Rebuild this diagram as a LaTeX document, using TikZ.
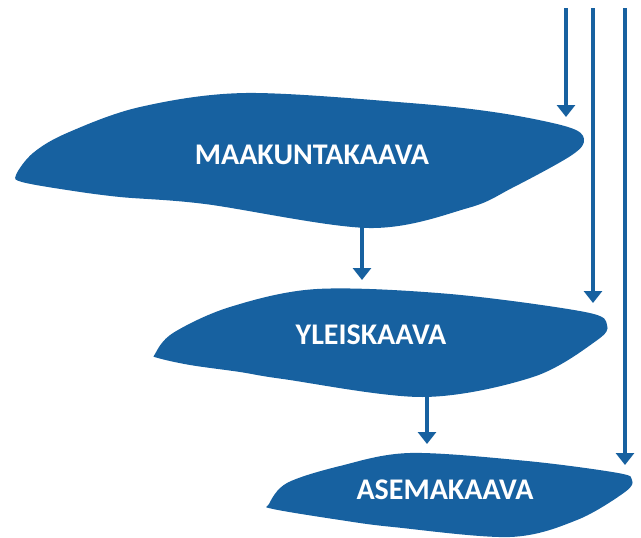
\documentclass[tikz,border=0pt]{standalone}
\usepackage{fontspec}
\setmainfont{Carlito}
\usetikzlibrary{arrows.meta}
\definecolor{kaavablue}{HTML}{1761A0}
\tikzset{
  blob/.style={fill=kaavablue, draw=none},
  label/.style={text=white, font=\fontsize{30}{36}\selectfont\bfseries, inner sep=0pt},
  flow/.style={draw=kaavablue, line width=4.2pt, -{Triangle[width=18pt,length=12pt]}}
}
\begin{document}
\begin{tikzpicture}[x=1pt,y=-1pt]
  \useasboundingbox (0,0) rectangle (641,538);
  % blobs
  \fill[blob] plot[smooth cycle, tension=0.55] coordinates {(16,175) (33,153) (67,133) (140,107) (246,93) (410,103) (500,113) (568,127) (584,139) (572,155) (512,188) (468,208) (369,228) (205,204) (120,197) (67,190) (22,182)};
  \fill[blob] plot[smooth cycle, tension=0.55] coordinates {(155,354) (173,333) (230,307) (317,289) (450,294) (585,312) (607,325) (596,341) (533,377) (423,397) (283,379) (240,372) (190,365) (158,358)};
  \fill[blob] plot[smooth cycle, tension=0.55] coordinates {(269,504) (287,483) (340,466) (410,453) (527,461) (618,473) (632,480) (625,492) (577,520) (510,537) (393,527) (340,520) (273,509)};
  % texts
  \node[label] (maakunta) at (312,155) {MAAKUNTAKAAVA};
  \node[label] (yleis) at (371,335) {YLEISKAAVA};
  \node[label] (asema) at (445,490) {ASEMAKAAVA};
  % connector ends
  \coordinate (maakunta-bot) at (362,225);
  \coordinate (yleis-top) at (362,280);
  \coordinate (yleis-bot) at (427,394);
  \coordinate (asema-top) at (427,444);
  \coordinate (top1) at (566,8);
  \coordinate (top2) at (593,8);
  \coordinate (top3) at (625,8);
  \coordinate (maakunta-in) at (566,117);
  \coordinate (yleis-in) at (593,303);
  \coordinate (asema-in) at (625,465);
  % arrows
  \draw[flow] (maakunta-bot) -- (yleis-top);
  \draw[flow] (yleis-bot) -- (asema-top);
  \draw[flow] (top1) -- (maakunta-in);
  \draw[flow] (top2) -- (yleis-in);
  \draw[flow] (top3) -- (asema-in);
\end{tikzpicture}
\end{document}
